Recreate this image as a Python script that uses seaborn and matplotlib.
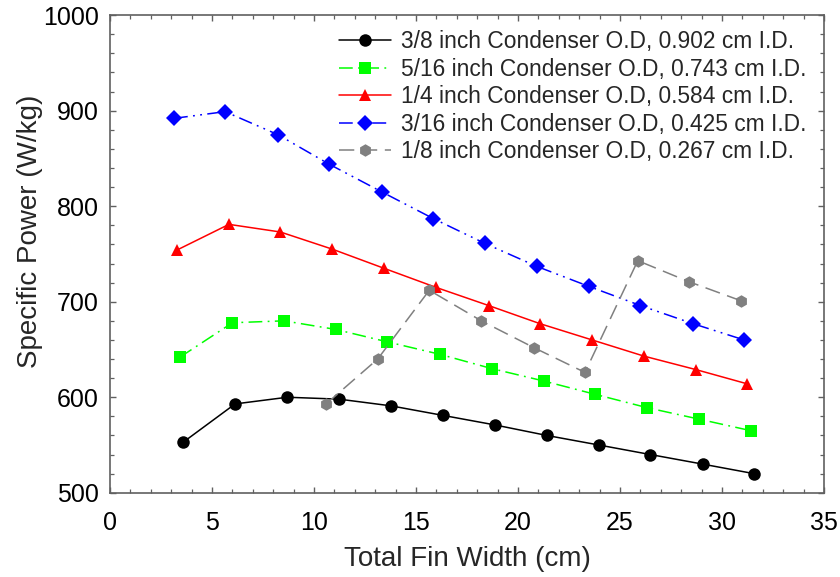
import matplotlib
matplotlib.use("Agg")
import matplotlib.pyplot as plt
from matplotlib.ticker import MultipleLocator
import seaborn as sns
import pandas as pd

# ---- data ----
labels = [
    "3/8 inch Condenser O.D, 0.902 cm I.D.",
    "5/16 inch Condenser O.D, 0.743 cm I.D.",
    "1/4 inch Condenser O.D, 0.584 cm I.D.",
    "3/16 inch Condenser O.D, 0.425 cm I.D.",
    "1/8 inch Condenser O.D, 0.267 cm I.D.",
]
x_black = [3.59, 6.13, 8.69, 11.23, 13.77, 16.32, 18.87, 21.41, 23.96, 26.49, 29.05, 31.57]
y_black = [553, 593, 600, 598, 591, 581, 571, 560, 550, 540, 530, 520]
x_green = [3.43, 6.00, 8.53, 11.06, 13.59, 16.16, 18.71, 21.26, 23.79, 26.34, 28.89, 31.41]
y_green = [642, 678, 680, 671, 658, 645, 630, 617, 603, 589, 577, 565]
x_red = [3.27, 5.83, 8.35, 10.90, 13.43, 15.98, 18.56, 21.08, 23.63, 26.18, 28.71, 31.24]
y_red = [754, 781, 773, 755, 735, 715, 696, 677, 660, 643, 629, 614]
x_blue = [3.14, 5.64, 8.22, 10.74, 13.32, 15.85, 18.38, 20.92, 23.48, 26.00, 28.58, 31.08]
y_blue = [892, 899, 875, 844, 815, 787, 761, 737, 716, 696, 677, 660]
x_gray = [10.59, 13.12, 15.65, 18.20, 20.77, 23.28, 25.87, 28.37, 30.93]
y_gray = [593, 640, 712, 680, 652, 626, 743, 721, 701]

xlabel = "Total Fin Width (cm)"
ylabel = "Specific Power (W/kg)"

# ---- style ----
sns.set_style("ticks")
plt.rcParams["font.family"] = ["Liberation Sans", "DejaVu Sans"]

fig = plt.figure(figsize=(8.4, 5.77), dpi=100)
ax = fig.add_axes([0.131, 0.146, 0.981 - 0.131, 0.9737 - 0.146])

series = [
    (x_black, y_black, "#000000", "o", 9, "-"),
    (x_green, y_green, "#00FF00", "s", 8, (0, (9, 3.5, 1.2, 3.5))),
    (x_red, y_red, "#FF0000", "^", 9, "-"),
    (x_blue, y_blue, "#0000FF", "D", 8, (0, (9, 3.5, 1.2, 3.5, 1.2, 3.5))),
    (x_gray, y_gray, "#808080", "h", 9, (0, (10, 5))),
]

for (xs, ys, col, mk, ms, ls), lab in zip(series, labels):
    df = pd.DataFrame({"x": xs, "y": ys})
    sns.lineplot(data=df, x="x", y="y", ax=ax, color=col, marker=mk,
                 markersize=ms, markeredgecolor=col, markeredgewidth=0,
                 linestyle=ls, linewidth=1.1, label=lab, sort=False)

ax.set_xlim(0, 35)
ax.set_ylim(500, 1000)
ax.xaxis.set_major_locator(MultipleLocator(5))
ax.xaxis.set_minor_locator(MultipleLocator(1))
ax.yaxis.set_major_locator(MultipleLocator(100))
ax.yaxis.set_minor_locator(MultipleLocator(20))

spine_col = "#606060"
for s in ax.spines.values():
    s.set_visible(True)
    s.set_color(spine_col)
    s.set_linewidth(1.2)

ax.tick_params(which="both", direction="in", top=True, right=True,
               colors=spine_col, labelcolor="black")
ax.tick_params(which="major", length=4.5, width=1.0, labelsize=18)
ax.tick_params(which="minor", length=2.6, width=0.9)
ax.tick_params(axis="x", which="major", pad=13)
ax.tick_params(axis="y", which="major", pad=8)

ax.set_xlabel(xlabel, fontsize=20, labelpad=8)
ax.set_ylabel(ylabel, fontsize=20)
ax.yaxis.set_label_coords(-0.094, 0.548)

leg = ax.legend(loc="upper right", bbox_to_anchor=(0.982, 0.978), frameon=False,
                fontsize=16.4, handlelength=2.3, handletextpad=0.45,
                labelspacing=0.2, borderaxespad=0.0, borderpad=0.2)

fig.savefig("out.png", dpi=100)
